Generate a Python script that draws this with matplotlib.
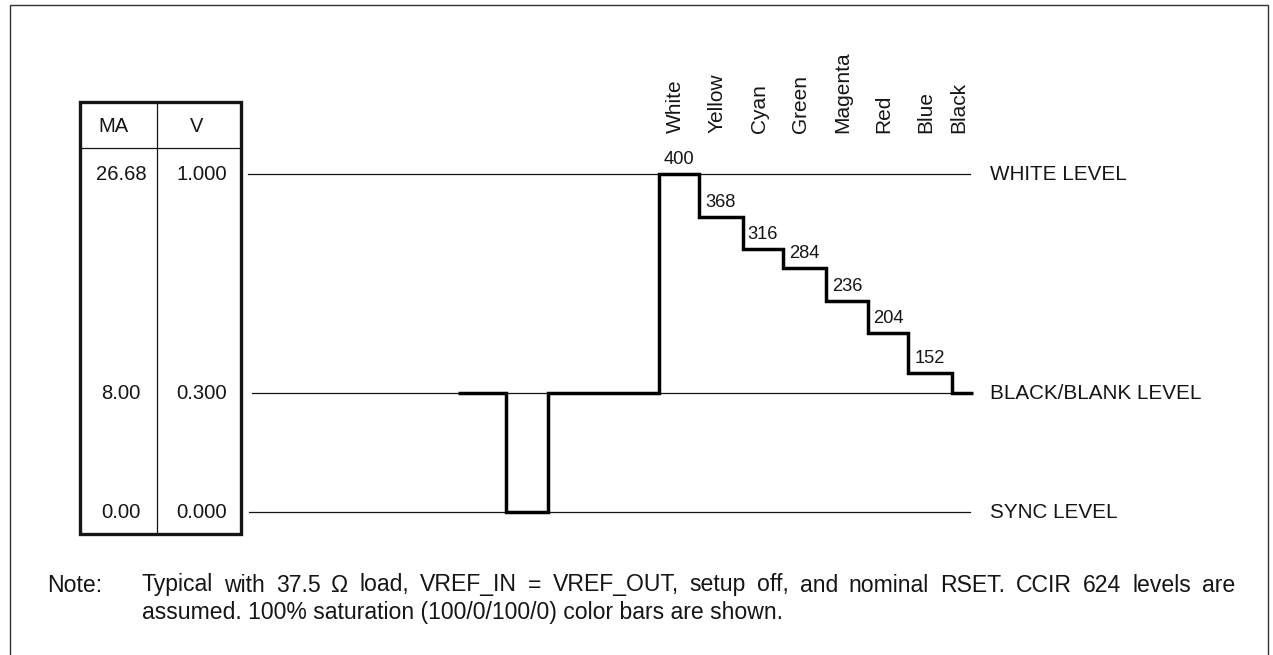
import numpy as np
import matplotlib
matplotlib.use("Agg")
import matplotlib.pyplot as plt
from matplotlib.patches import Rectangle

plt.rcParams['font.family'] = ['Liberation Sans', 'DejaVu Sans']

INK = '#151515'

# niveaux de référence (tension dessinée, textes du tableau)
level_names = ['WHITE LEVEL', 'BLACK/BLANK LEVEL', 'SYNC LEVEL']
level_v = [1.0, 0.352, 0.0]
level_ma = ['26.68', '8.00', '0.00']
level_vtxt = ['1.000', '0.300', '0.000']

# forme d'onde : instants de transition (unités arbitraires) et niveau de chaque segment
wave_t = [458, 506, 548, 659, 699, 743, 783, 826, 868, 908, 952, 973]
wave_v = [0.352, 0.0, 0.352, 1.0, 0.873, 0.778, 0.722, 0.624, 0.530, 0.411, 0.352]

# barres de couleur
bar_names = ['White', 'Yellow', 'Cyan', 'Green', 'Magenta', 'Red', 'Blue', 'Black']
bar_codes = ['400', '368', '316', '284', '236', '204', '152', None]

note_line1 = ("Typical with 37.5 \u03a9 load, VREF_IN = VREF_OUT, setup off, "
              "and nominal RSET. CCIR 624 levels are")
note_line2 = "assumed. 100% saturation (100/0/100/0) color bars are shown."

W, H = 1273, 655
fig = plt.figure(figsize=(W / 100, H / 100), dpi=100)

# axe de mise en page en pixels
lay = fig.add_axes([0, 0, 1, 1])
lay.set_xlim(0, W)
lay.set_ylim(H, 0)
lay.axis('off')

# axe des données : x temps, y tension
ax = fig.add_axes([0, 0, 1, 1])
ax.set_xlim(0, W)
ax.set_ylim(-(H - 512) / 338, 512 / 338)
ax.axis('off')

# cadre extérieur
lay.plot([10, 10, 1268, 1268], [H + 5, 5, 5, H + 5], color='#333333', lw=1.0,
         solid_joinstyle='miter')

# tableau MA / V
lay.add_patch(Rectangle((80, 102), 161, 432, fill=False, lw=2.4, ec=INK,
                        joinstyle='miter'))
lay.plot([80, 241], [148, 148], color=INK, lw=0.9)
lay.plot([157, 157], [102, 534], color=INK, lw=0.9)
lay.text(113, 127, 'MA', ha='center', va='center', fontsize=14.5, color=INK)
lay.text(197, 127, 'V', ha='center', va='center', fontsize=14.5, color=INK)

# lignes de niveau
line_start = [248, 252, 249]
line_end = [970, 972, 970]
for name, v, ma, vt, x0, x1 in zip(level_names, level_v, level_ma, level_vtxt,
                                   line_start, line_end):
    ax.plot([x0, x1], [v, v], color=INK, lw=0.9)
    ax.text(990, v, name, ha='left', va='center', fontsize=14.9, color=INK)
    ax.text(121, v, ma, ha='center', va='center', fontsize=14.6, color=INK)
    ax.text(202, v, vt, ha='center', va='center', fontsize=14.6, color=INK)

# forme d'onde en escalier
t = np.array(wave_t, dtype=float)
v = np.array(wave_v, dtype=float)
xs = np.repeat(t, 2)[1:-1]
ys = np.repeat(v, 2)
ax.plot(xs, ys, color='black', lw=2.5, solid_joinstyle='miter',
        solid_capstyle='butt')

# noms des barres et codes
dv = (ax.get_ylim()[1] - ax.get_ylim()[0]) / H
for i, (name, code) in enumerate(zip(bar_names, bar_codes)):
    seg = i + 3
    mid = (t[seg] + t[seg + 1]) / 2
    lay.text(mid - 4, 133, name, rotation=90, ha='center', va='bottom',
             fontsize=15, color=INK)
    if code:
        ax.text(mid, v[seg] + 6 * dv, code, ha='center', va='bottom',
                fontsize=13.2, color=INK)

# note en bas, première ligne justifiée
lay.text(47, 585, 'Note:', ha='left', va='center', fontsize=16.6, color=INK)
renderer = fig.canvas.get_renderer()
words = note_line1.split(' ')
objs = [lay.text(0, 585, w, ha='left', va='center', fontsize=16.6, color=INK)
        for w in words]
widths = [o.get_window_extent(renderer).width for o in objs]
x_left, x_right = 142, 1235
gap = (x_right - x_left - sum(widths)) / (len(words) - 1)
x = x_left
for o, w in zip(objs, widths):
    o.set_x(x)
    x += w + gap
lay.text(142, 613, note_line2, ha='left', va='center', fontsize=16.6, color=INK)

fig.savefig('out.png', dpi=100, facecolor='white')
